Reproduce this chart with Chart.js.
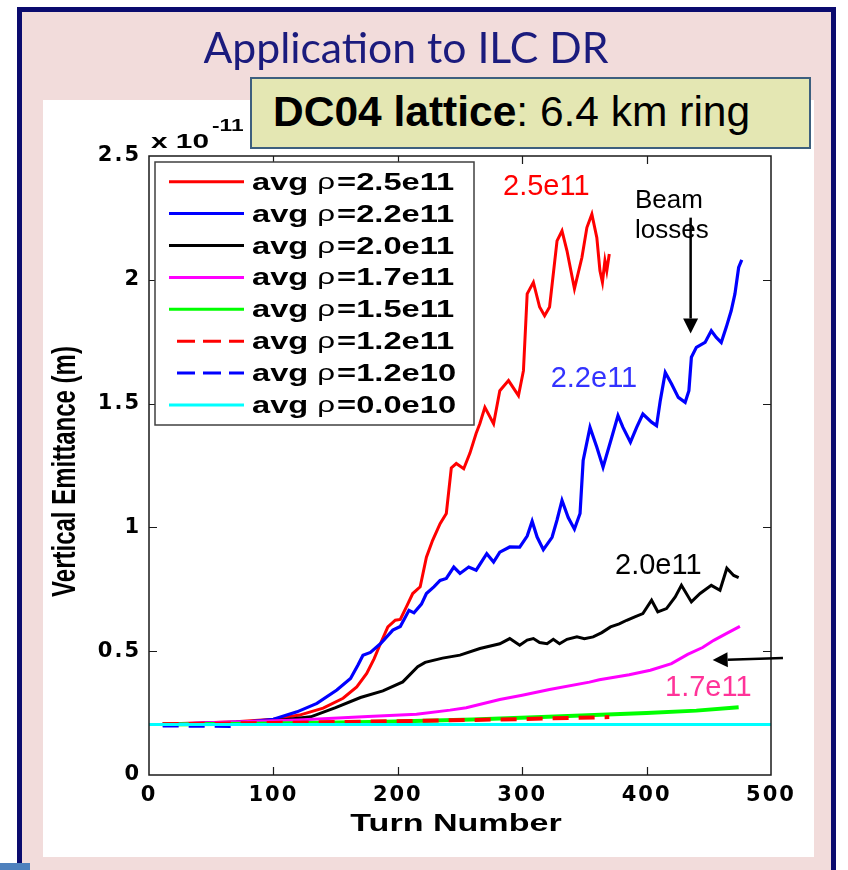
<!DOCTYPE html>
<html>
<head>
<meta charset="utf-8">
<script src="https://cdn.jsdelivr.net/npm/chart.js@4.4.1/dist/chart.umd.min.js"></script>
<style>
  html, body { margin: 0; padding: 0; background: #ffffff; }
  #page { position: relative; width: 848px; height: 870px; overflow: hidden; background: #ffffff; }
  #frame { position: absolute; left: 17px; top: 7px; width: 809px; height: 900px;
           border: 5px solid #0b0b6e; background: #f2dcdb; }
  #panel { position: absolute; left: 43px; top: 100px; width: 771px; height: 757px; background: #ffffff; }
  #slideTitle { position: absolute; left: 405px; top: 25px; font-family: Lato, "Open Sans", sans-serif;
           font-size: 43px; line-height: 43px; color: #1b1b7d; white-space: nowrap;
           transform-origin: 0 0; }
  #tag { position: absolute; left: 250px; top: 77px; width: 557px; height: 68px;
         border: 2px solid #3d5f7e; background: #e4e7b3; }
  #tagText { position: absolute; left: 273px; top: 91px; font-family: "Liberation Sans", Arial, sans-serif;
         font-size: 42.5px; line-height: 42.5px; color: #000; white-space: nowrap; }
  #bar { position: absolute; left: 0; top: 863px; width: 30px; height: 7px; background: #4f81bd; }
  #chart { position: absolute; left: 0; top: 0; }
</style>
</head>
<body>
<div id="page">
  <div id="frame"></div>
  <div id="bar"></div>
  <div id="panel"></div>
  <canvas id="chart" width="848" height="870"></canvas>
  <div id="slideTitle">Application to ILC DR</div>
  <div id="tag"></div>
  <div id="tagText"><b>DC04 lattice</b>: 6.4 km ring</div>
</div>
<script>
// ---- axis ticks ----
const xTickValues = [0, 100, 200, 300, 400, 500];
const yTickValues = [0, 0.5, 1, 1.5, 2, 2.5];
const yTickLabels = ['0', '0.5', '1', '1.5', '2', '2.5'];

// ---- series: turn number and vertical emittance (units of 1e-11 m) ----
const seriesNames = ['2.5e11', '2.2e11', '2.0e11', '1.7e11', '1.5e11', '1.2e11', '1.2e10', '0.0e10'];

const turns25 = [11, 40, 70, 100, 121, 140, 156, 167, 175, 181, 186, 192, 198, 202, 207, 212, 218, 223, 228, 234, 239, 243, 247, 253, 258, 263, 266, 270, 277, 282, 289, 297, 301, 304, 309, 314, 318, 322, 328, 332, 336, 342, 348, 352, 356, 360, 362.5, 364.5, 366.5, 368, 370];
const emit25  = [0.206, 0.210, 0.215, 0.225, 0.242, 0.270, 0.310, 0.356, 0.410, 0.470, 0.530, 0.598, 0.625, 0.628, 0.680, 0.733, 0.760, 0.880, 0.948, 1.015, 1.056, 1.240, 1.258, 1.237, 1.300, 1.380, 1.420, 1.485, 1.419, 1.552, 1.593, 1.532, 1.633, 1.943, 1.990, 1.890, 1.855, 1.890, 2.157, 2.198, 2.117, 1.964, 2.090, 2.211, 2.265, 2.170, 2.036, 1.990, 2.077, 2.036, 2.104];

const turns22 = [11, 50, 80, 100, 119, 135, 151, 162, 168, 172, 178, 186, 196, 202, 209, 213, 219, 223, 229, 234, 239, 245, 250, 257, 263, 271.5, 277, 282, 290, 298, 304, 308, 312, 317, 324, 328, 332, 337, 342, 346.5, 349, 354.5, 360, 365, 372, 377, 381, 387, 392, 397, 404, 408, 411, 415, 420, 425.5, 431, 434, 436, 440, 447, 452, 456, 460, 464, 468, 471, 474, 476.5];
const emit22  = [0.205, 0.210, 0.215, 0.225, 0.255, 0.289, 0.343, 0.390, 0.444, 0.484, 0.495, 0.530, 0.585, 0.600, 0.665, 0.655, 0.690, 0.733, 0.760, 0.786, 0.794, 0.840, 0.814, 0.840, 0.827, 0.894, 0.860, 0.900, 0.921, 0.920, 0.965, 1.025, 0.961, 0.910, 0.960, 1.030, 1.109, 1.040, 0.993, 1.056, 1.270, 1.404, 1.324, 1.243, 1.364, 1.452, 1.404, 1.344, 1.404, 1.458, 1.425, 1.411, 1.512, 1.626, 1.580, 1.525, 1.505, 1.552, 1.687, 1.727, 1.747, 1.794, 1.767, 1.747, 1.808, 1.875, 1.943, 2.050, 2.080];

const turns20 = [11, 60, 100, 130, 150, 170, 188, 204, 216, 222, 236, 250, 266, 282, 290, 298, 304, 309, 314, 320, 325, 330, 336, 344, 350, 357, 364, 371, 378, 384, 391, 397, 404, 409, 416, 423, 428, 436, 443, 452, 459, 464.5, 470, 474];
const emit20  = [0.205, 0.210, 0.218, 0.235, 0.272, 0.313, 0.340, 0.376, 0.437, 0.455, 0.472, 0.484, 0.511, 0.530, 0.551, 0.524, 0.545, 0.551, 0.535, 0.530, 0.548, 0.530, 0.548, 0.558, 0.550, 0.558, 0.575, 0.598, 0.610, 0.625, 0.640, 0.652, 0.706, 0.659, 0.672, 0.719, 0.766, 0.699, 0.733, 0.766, 0.746, 0.835, 0.806, 0.797];

const turns17 = [11, 60, 120, 176, 215, 242, 255, 282, 300, 322, 354, 362, 386, 403, 420, 433, 445, 454, 464, 475];
const emit17  = [0.205, 0.213, 0.222, 0.236, 0.245, 0.262, 0.272, 0.305, 0.322, 0.345, 0.375, 0.385, 0.405, 0.423, 0.450, 0.487, 0.515, 0.544, 0.571, 0.600];

const turns15 = [11, 100, 190, 260, 321, 400, 440, 474];
const emit15  = [0.204, 0.208, 0.215, 0.224, 0.235, 0.250, 0.260, 0.274];

const turns12a = [11, 100, 222, 300, 370];
const emit12a  = [0.205, 0.210, 0.219, 0.226, 0.234];

const turns12b = [11, 72];
const emit12b  = [0.197, 0.195];

const turns00 = [0, 500];
const emit00  = [0.204, 0.204];

// ---- styling per series ----
const seriesColors = ['#ff0000', '#0000ff', '#000000', '#ff00ff', '#00ff00', '#ff0000', '#0000ff', '#00ffff'];
const seriesWidths = [3, 3.2, 3, 3, 4, 4, 2.5, 3];
const seriesDashes = [[], [], [], [], [], [16, 10], [16, 10], []];

const seriesTurns = [turns25, turns22, turns20, turns17, turns15, turns12a, turns12b, turns00];
const seriesEmit  = [emit25, emit22, emit20, emit17, emit15, emit12a, emit12b, emit00];

const datasets = seriesNames.map((name, i) => ({
  label: 'avg \u03c1=' + name,
  data: seriesTurns[i].map((t, k) => ({ x: t, y: seriesEmit[i][k] })),
  borderColor: seriesColors[i],
  backgroundColor: seriesColors[i],
  borderWidth: seriesWidths[i],
  borderDash: seriesDashes[i],
  pointRadius: 0,
  fill: false,
  tension: 0,
  order: seriesNames.length - i   // later series are painted on top
}));

// ---- in-plot annotations (data coordinates) ----
const notes = [
  { text: '2.5e11', t: 284.6, v: 2.343, color: '#ff0000', size: 29 },
  { text: 'Beam',   t: 390.7, v: 2.292, color: '#000000', size: 26 },
  { text: 'losses', t: 390.7, v: 2.168, color: '#000000', size: 26 },
  { text: '2.2e11', t: 322.9, v: 1.566, color: '#3333ff', size: 29 },
  { text: '2.0e11', t: 374.6, v: 0.813, color: '#000000', size: 29 },
  { text: '1.7e11', t: 414.8, v: 0.319, color: '#ff3399', size: 29 }
];
const arrows = [
  { from: [435.4, 2.251], to: [435.4, 1.783] },
  { from: [509.6, 0.473], to: [453.1, 0.464] }
];

const STRETCH = 1.42;   // figure text is horizontally widened

function wideText(ctx, str, x, y, font, align) {
  ctx.save();
  ctx.font = font;
  ctx.translate(x, y);
  ctx.scale(STRETCH, 1);
  ctx.textAlign = align || 'left';
  ctx.textBaseline = 'alphabetic';
  ctx.fillText(str, 0, 0);
  ctx.restore();
}

const figureDecor = {
  id: 'figureDecor',
  beforeDraw(chart) {
    chart.ctx.letterSpacing = '2px';
  },
  beforeDatasetsDraw(chart) {
    chart.ctx.letterSpacing = '0px';
  },
  afterDatasetsDraw(chart) {
    const { ctx, chartArea: a, scales: { x, y } } = chart;
    ctx.save();
    ctx.strokeStyle = '#1a1a1a';
    ctx.lineWidth = 1.5;
    ctx.strokeRect(a.left, a.top, a.right - a.left, a.bottom - a.top);
    ctx.lineWidth = 1.2;
    const L = 8;
    ctx.beginPath();
    x.ticks.forEach(t => {
      const px = Math.round(x.getPixelForValue(t.value)) + 0.5;
      if (px <= a.left + 2 || px >= a.right - 2) return;
      ctx.moveTo(px, a.bottom); ctx.lineTo(px, a.bottom - L);
      ctx.moveTo(px, a.top); ctx.lineTo(px, a.top + L);
    });
    y.ticks.forEach(t => {
      const py = Math.round(y.getPixelForValue(t.value)) + 0.5;
      if (py <= a.top + 2 || py >= a.bottom - 2) return;
      ctx.moveTo(a.left, py); ctx.lineTo(a.left + L, py);
      ctx.moveTo(a.right, py); ctx.lineTo(a.right - L, py);
    });
    ctx.stroke();
    ctx.restore();
  },
  afterDraw(chart) {
    const { ctx, chartArea: a, scales: { x, y } } = chart;
    ctx.save();
    ctx.letterSpacing = '0px';
    ctx.fillStyle = '#000';

    // axis titles
    wideText(ctx, 'Turn Number', (a.left + a.right) / 2 - 4, a.bottom + 56, 'bold 24px "Liberation Sans", Arial, sans-serif', 'center');
    ctx.save();
    ctx.translate(a.left - 83, (a.top + a.bottom) / 2 + 6);
    ctx.scale(STRETCH, 1);
    ctx.rotate(-Math.PI / 2);
    ctx.font = 'bold 24px "Liberation Sans", Arial, sans-serif';
    ctx.textAlign = 'center';
    ctx.textBaseline = 'middle';
    ctx.fillText('Vertical Emittance (m)', 0, 0);
    ctx.restore();

    // exponent of the y axis
    wideText(ctx, 'x 10', a.left + 2, a.top - 8, 'bold 21px "Liberation Sans", Arial, sans-serif', 'left');
    wideText(ctx, '-11', a.left + 63, a.top - 25, 'bold 16px "Liberation Sans", Arial, sans-serif', 'left');

    // legend box
    const lx = a.left + 6, ly = a.top + 6, lw = 319, lh = 263;
    ctx.fillStyle = '#ffffff';
    ctx.fillRect(lx, ly, lw, lh);
    ctx.strokeStyle = '#404040';
    ctx.lineWidth = 1.5;
    ctx.strokeRect(lx, ly, lw, lh);
    chart.data.datasets.forEach((ds, i) => {
      const cy = ly + 19.7 + i * 31.9;
      ctx.save();
      ctx.strokeStyle = ds.borderColor;
      ctx.lineWidth = 3;
      if (ds.borderDash && ds.borderDash.length) {
        ctx.setLineDash([18, 8]);
        ctx.beginPath(); ctx.moveTo(lx + 22, cy); ctx.lineTo(lx + 89, cy); ctx.stroke();
      } else {
        ctx.beginPath(); ctx.moveTo(lx + 14, cy); ctx.lineTo(lx + 89, cy); ctx.stroke();
      }
      ctx.restore();
      ctx.fillStyle = '#000';
      const base = cy + 8;
      let tx = lx + 97;
      const bold = 'bold 23px "Liberation Sans", Arial, sans-serif';
      const reg = '22px "Liberation Sans", Arial, sans-serif';
      ctx.font = bold;
      const wAvg = ctx.measureText('avg ').width * STRETCH;
      wideText(ctx, 'avg ', tx, base, bold);
      tx += wAvg;
      ctx.font = reg;
      const wRho = ctx.measureText('\u03c1').width * STRETCH;
      wideText(ctx, '\u03c1', tx, base - 1, reg);
      tx += wRho + 2;
      wideText(ctx, '=' + seriesNames[i], tx, base, bold);
    });

    // annotations
    notes.forEach(n => {
      ctx.font = n.size + 'px "Liberation Sans", Arial, sans-serif';
      ctx.fillStyle = n.color;
      ctx.textAlign = 'left';
      ctx.textBaseline = 'alphabetic';
      ctx.fillText(n.text, x.getPixelForValue(n.t), y.getPixelForValue(n.v));
    });
    arrows.forEach(ar => {
      const x0 = x.getPixelForValue(ar.from[0]), y0 = y.getPixelForValue(ar.from[1]);
      const x1 = x.getPixelForValue(ar.to[0]), y1 = y.getPixelForValue(ar.to[1]);
      const ang = Math.atan2(y1 - y0, x1 - x0);
      const head = 15, half = 7.5;
      const bx = x1 - head * Math.cos(ang), by = y1 - head * Math.sin(ang);
      ctx.strokeStyle = '#000'; ctx.fillStyle = '#000'; ctx.lineWidth = 2.5;
      ctx.beginPath(); ctx.moveTo(x0, y0); ctx.lineTo(bx, by); ctx.stroke();
      ctx.beginPath();
      ctx.moveTo(x1, y1);
      ctx.lineTo(bx + half * Math.sin(ang), by - half * Math.cos(ang));
      ctx.lineTo(bx - half * Math.sin(ang), by + half * Math.cos(ang));
      ctx.closePath(); ctx.fill();
    });
    ctx.restore();
  }
};

const tickFont = { family: '"DejaVu Sans", sans-serif', weight: 'bold', size: 21 };

new Chart(document.getElementById('chart'), {
  type: 'line',
  data: { datasets },
  options: {
    responsive: false,
    animation: false,
    devicePixelRatio: 1,
    layout: { padding: { left: 0, top: 156, right: 77, bottom: 0 } },
    plugins: { legend: { display: false }, tooltip: { enabled: false } },
    scales: {
      x: {
        type: 'linear', min: 0, max: 500,
        afterBuildTicks(s) { s.ticks = xTickValues.map(v => ({ value: v })); },
        afterFit(s) { s.height = 95; },
        grid: { display: false, drawTicks: false },
        border: { display: false },
        ticks: { font: tickFont, color: '#000', padding: 8, maxRotation: 0, autoSkip: false }
      },
      y: {
        type: 'linear', min: 0, max: 2.5,
        afterBuildTicks(s) { s.ticks = yTickValues.map(v => ({ value: v })); },
        afterFit(s) { s.width = 149; },
        grid: { display: false, drawTicks: false },
        border: { display: false },
        ticks: {
          font: tickFont, color: '#000', padding: 8, autoSkip: false,
          callback: (v) => yTickLabels[yTickValues.indexOf(v)]
        }
      }
    }
  },
  plugins: [figureDecor]
});

// fit the slide heading to its width and centre it
const head = document.getElementById('slideTitle');
const hw = head.getBoundingClientRect().width;
head.style.transform = 'scaleX(' + (405 / hw) + ') translateX(-50%)';
head.style.left = '405.5px';
</script>
</body>
</html>
